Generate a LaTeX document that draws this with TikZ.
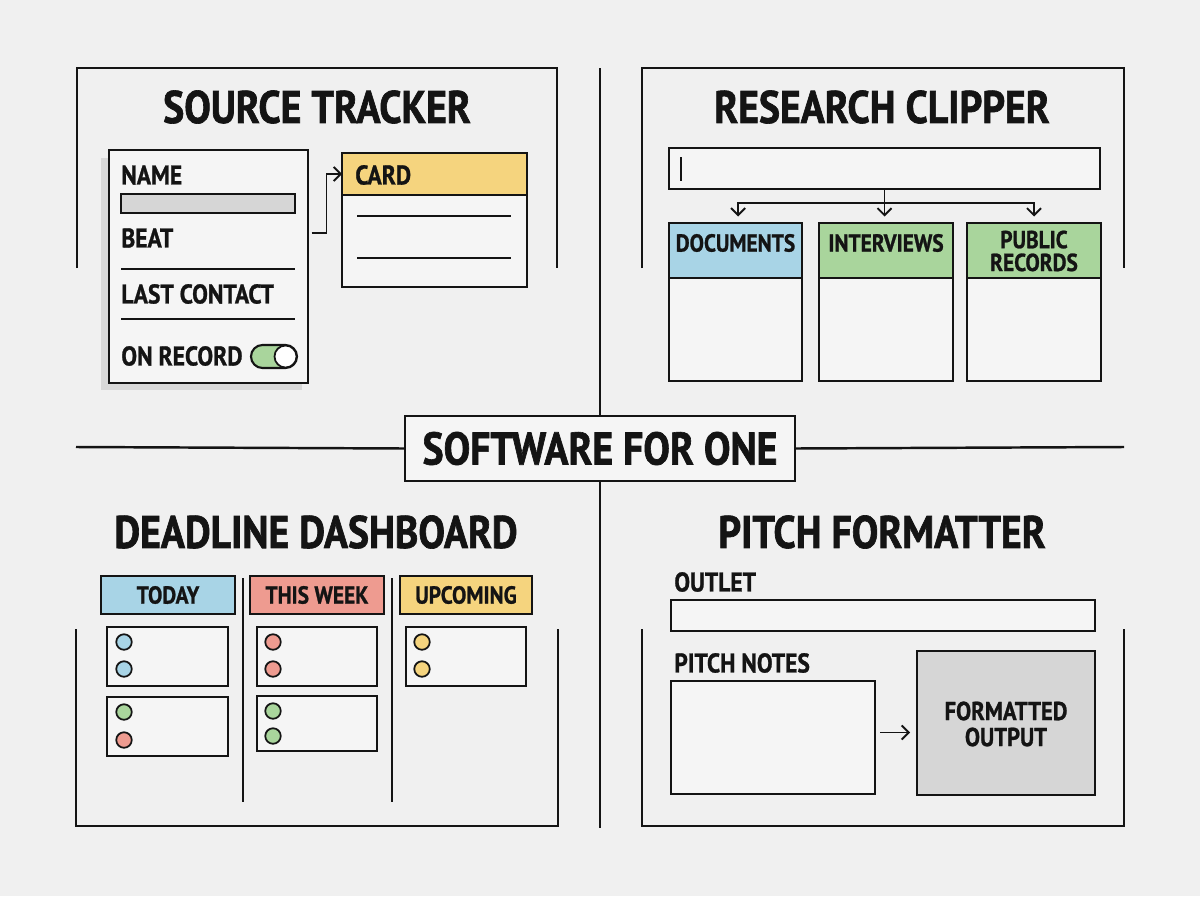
\documentclass[tikz,border=0pt]{standalone}
\usepackage{fontspec}
\setmainfont{PT Sans}[FakeStretch=0.87]
\newfontfamily\heavyfont{PT Sans}[FakeStretch=0.87, BoldFeatures={FakeBold=1.4}]
\newfontfamily\firmfont{PT Sans}[FakeStretch=0.87, BoldFeatures={FakeBold=1.0}]
\usetikzlibrary{positioning,fit,calc,arrows.meta}

\definecolor{paper}{HTML}{F0F0F0}
\definecolor{ink}{HTML}{141414}
\definecolor{sheet}{HTML}{F5F5F5}
\definecolor{skyblue}{HTML}{A8D4E6}
\definecolor{leafgreen}{HTML}{A9D59C}
\definecolor{salmon}{HTML}{EE9B90}
\definecolor{butter}{HTML}{F5D47E}
\definecolor{fieldgray}{HTML}{D6D6D6}
\definecolor{shadowgray}{HTML}{D8D8D8}

\tikzset{
  frame/.style={draw=ink, line width=1.4pt},
  box/.style={draw=ink, line width=1.2pt, fill=#1, inner sep=0pt, outer sep=0pt},
  box/.default=sheet,
  heading/.style={font=\heavyfont\fontsize{26}{28}\selectfont\bfseries, text=ink, inner sep=0pt},
  fieldtxt/.style={font=\firmfont\fontsize{15.4}{16}\selectfont\bfseries, text=ink, inner sep=0pt},
  tabtxt/.style={font=\firmfont\fontsize{14}{13}\selectfont\bfseries, text=ink, inner sep=0pt, align=center},
  rule/.style={draw=ink, line width=1pt},
  dot/.style={circle, draw=ink, line width=1pt, fill=#1, minimum size=0.31cm, inner sep=0pt},
  link/.style={draw=ink, line width=1.1pt, -{Straight Barb[length=4pt,width=8pt]}}
}

\begin{document}
\begin{tikzpicture}[x=0.02cm, y=-0.02cm]
    \fill[paper] (0,0) rectangle (1200,896);
    \useasboundingbox (0,0) rectangle (1200,896);

    % quarter frames and centre title
    \node[box=sheet, fit={(405,416) (795,481)}] (hub) {};
    \node[heading] (hubtxt) at (hub) {SOFTWARE FOR ONE};
    \draw[frame] (600,68) -- (hub.north);
    \draw[frame] (hub.south) -- (600,828);
    \draw[frame] (76,447) -- (hub.west);
    \draw[frame] (hub.east) -- (1124,447);
    \draw[frame] (77,268) -- (77,68) -- (557,68) -- (557,268);
    \draw[frame] (642,268) -- (642,68) -- (1124,68) -- (1124,268);
    \draw[frame] (76,629) -- (76,826) -- (558,826) -- (558,629);
    \draw[frame] (642,629) -- (642,826) -- (1124,826) -- (1124,629);

    % source tracker
    \node[heading] (srctitle) at (317,107) {SOURCE TRACKER};
    \fill[shadowgray] (101,158) rectangle (302,390);
    \node[box, fit={(109,150) (308,383)}] (form) {};
    \node[fieldtxt, anchor=west] (name) at (121,175) {NAME};
    \node[box=fieldgray, fit={(121,194) (295,213)}] (namefield) {};
    \node[fieldtxt, anchor=west] (beat) at (121,238) {BEAT};
    \draw[rule] (121,269) -- (295,269);
    \node[fieldtxt, anchor=west] (contact) at (121,294) {LAST CONTACT};
    \draw[rule] (121,319) -- (295,319);
    \node[fieldtxt, anchor=west] (onrecord) at (121,356) {ON RECORD};
    \node[box=leafgreen, fit={(251,345) (297,368)}, rounded corners=0.23cm] (switch) {};
    \node[dot=white, minimum size=0.44cm] (knob) at (285.5,356.5) {};

    \node[box, fit={(342,153) (527,287)}] (card) {};
    \node[box=butter, fit={(342,153) (527,195)}] (cardhead) {};
    \node[fieldtxt, anchor=west] (cardtxt) at (355,175) {CARD};
    \draw[rule] (357,216) -- (511,216);
    \draw[rule] (357,258) -- (511,258);
    \draw[link] ([xshift=2pt, yshift=0.67cm]form.east) -- ++(15,0) |- (cardhead.west);

    % research clipper
    \node[heading] (cliptitle) at (882,107) {RESEARCH CLIPPER};
    \node[box, fit={(669,148) (1100,189)}] (search) {};
    \draw[rule] (681,157) -- (681,181);
    \node[box, fit={(669,223) (802,381)}] (docs) {};
    \node[box=skyblue, fit={(669,223) (802,278)}] (docshead) {};
    \node[box, fit={(819,223) (953,381)}] (talks) {};
    \node[box=leafgreen, fit={(819,223) (953,278)}] (talkshead) {};
    \node[box, fit={(967,223) (1101,381)}] (recs) {};
    \node[box=leafgreen, fit={(967,223) (1101,278)}] (recshead) {};
    \node[tabtxt] (docstxt) at (735.5,243) {DOCUMENTS};
    \node[tabtxt] (talkstxt) at (886,243) {INTERVIEWS};
    \node[tabtxt] (recstxt) at (1034,251) {PUBLIC\\RECORDS};
    \draw[rule] (search.south) -- ++(0,14) coordinate (split);
    \draw[link, shorten >=0.13cm] (split) -| ([xshift=1.5pt]docshead.north);
    \draw[link, shorten >=0.13cm] (split) -- (split |- talkshead.north);
    \draw[link, shorten >=0.13cm] (split) -| (recshead.north);

    % deadline dashboard
    \node[heading] (dashtitle) at (316,532) {DEADLINE DASHBOARD};
    \node[box=skyblue, fit={(101,576) (235,614)}] (today) {};
    \node[box=salmon, fit={(250,576) (384,614)}] (week) {};
    \node[box=butter, fit={(400,576) (532,614)}] (soon) {};
    \node[tabtxt] (todaytxt) at (today) {TODAY};
    \node[tabtxt] (weektxt) at (week) {THIS WEEK};
    \node[tabtxt] (soontxt) at (soon) {UPCOMING};
    \draw[frame] (243,578) -- (243,802);
    \draw[frame] (392,578) -- (392,802);
    \node[box, fit={(107,627) (228,686)}] (todayA) {};
    \node[box, fit={(107,697) (228,756)}] (todayB) {};
    \node[box, fit={(257,627) (377,686)}] (weekA) {};
    \node[box, fit={(257,696) (377,751)}] (weekB) {};
    \node[box, fit={(406,627) (526,686)}] (soonA) {};
    \foreach \n/\x/\y/\c in {ta1/124/642/skyblue, ta2/124/669/skyblue,
                             tb1/124/712/leafgreen, tb2/124/740/salmon,
                             wa1/273/642/salmon, wa2/273/669/salmon,
                             wb1/273/711/leafgreen, wb2/273/736/leafgreen,
                             sa1/422/642/butter, sa2/422/669/butter}
        \node[dot=\c] (\n) at (\x,\y) {};

    % pitch formatter
    \node[heading] (pitchtitle) at (882,532) {PITCH FORMATTER};
    \node[fieldtxt, anchor=west] (outlet) at (674,582) {OUTLET};
    \node[box, fit={(671,600) (1095,631)}] (outletfield) {};
    \node[fieldtxt, anchor=west] (notestxt) at (674,663) {PITCH NOTES};
    \node[box, fit={(671,681) (875,794)}] (notes) {};
    \node[box=fieldgray, fit={(917,651) (1095,795)}] (output) {};
    \node[tabtxt, font=\firmfont\fontsize{14.8}{14.8}\selectfont\bfseries] (outtxt) at ([yshift=-0.02cm]output) {FORMATTED\\OUTPUT};
    \draw[link, shorten <=0.1cm, shorten >=0.14cm] ([yshift=0.1cm]notes.east) -- ([yshift=0.1cm]notes.east -| output.west);
\end{tikzpicture}
\end{document}
